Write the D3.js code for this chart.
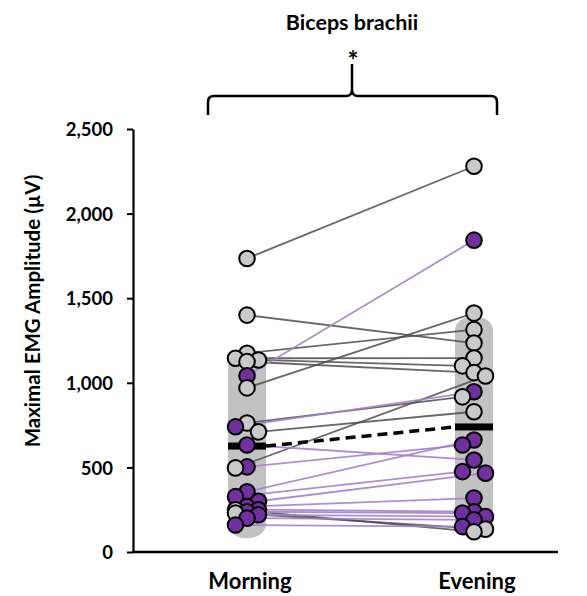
<!DOCTYPE html>
<html>
<head>
<meta charset="utf-8">
<script src="https://cdn.jsdelivr.net/npm/d3@7"></script>
<style>
  body { margin: 0; background: #fff; }
  svg text { font-family: Lato, "Open Sans", sans-serif; font-weight: bold; fill: #000; }
</style>
</head>
<body>
<svg id="chart" width="587" height="596"></svg>
<script>
// values (µV)
const sessions = ["Morning", "Evening"];
const grayMorning   = [1735, 1400, 1175, 1145, 1135, 1125, 970, 762, 710, 497, 250, 230];
const grayEvening   = [2280, 1235, 1314, 1146, 1100, 1060, 1412, 917, 829, 1040, 120, 135];
const purpleMorning = [1042, 740, 632, 503, 356, 327, 300, 268, 250, 238, 220, 200, 160];
const purpleEvening = [1843, 947, 544, 632, 662, 475, 466, 319, 238, 230, 209, 190, 150];
const sessionMeans = [626, 739];
const sessionSDs = [545, 655];
const yTicks = [0, 500, 1000, 1500, 2000, 2500];

let svg = d3.select("#chart"),
    plotLeft = 133, plotBottom = 552, plotTop = 129, plotRight = 558,
    bandW = 38, r = 7.8;

let x = d3.scalePoint().domain(sessions).range([247, 474]);
let y = d3.scaleLinear().domain([0, 2500]).range([plotBottom, plotTop]);

let colors = {gray: "#c9c9c9", purple: "#7030a0"};
let lineColors = {gray: "#4d4d4d", purple: "#a382cf"};

// subjects
let subjects = [];
grayMorning.forEach((v, i) => subjects.push({group: "gray", vals: [v, grayEvening[i]]}));
purpleMorning.forEach((v, i) => subjects.push({group: "purple", vals: [v, purpleEvening[i]]}));

// simple dodge so circles sit side by side like the original
let points = [];
sessions.forEach((s, si) => {
    let col = subjects.map(d => ({subj: d, group: d.group, value: d.vals[si], session: s}))
        .sort((a, b) => b.value - a.value);
    let placed = [];
    col.forEach(p => {
        let cy = y(p.value), best = null, bestD = -1;
        for (let off of [0, -11.5, 11.5]) {
            let dmin = d3.min(placed, q => Math.hypot(q.off - off, q.cy - cy));
            if (dmin === undefined) dmin = 999;
            if (dmin >= 12) { best = off; break; }
            if (dmin > bestD) { bestD = dmin; best = off; }
        }
        p.off = best; p.cy = cy; p.cx = x(s) + best;
        placed.push(p);
        p.subj["p" + si] = p;
        points.push(p);
    });
});

// mean ± SD bands
svg.selectAll("rect.band")
    .data(sessions)
    .enter().append("rect")
    .attr("class", "band")
    .attr("x", d => x(d) - bandW / 2)
    .attr("width", bandW)
    .attr("y", (d, i) => y(sessionMeans[i] + sessionSDs[i]))
    .attr("height", (d, i) => y(sessionMeans[i] - sessionSDs[i]) - y(sessionMeans[i] + sessionSDs[i]))
    .attr("rx", bandW / 2).attr("ry", 14)
    .attr("fill", "#c2c2c2");

// axes
let yAxis = d3.axisLeft(y).tickValues(yTicks).tickSize(6).tickSizeOuter(0)
    .tickFormat(d3.format(","));
let gy = svg.append("g").attr("transform", "translate(" + plotLeft + ",0)").call(yAxis);
gy.select(".domain").attr("stroke", "#000").attr("stroke-width", 2.2);
gy.selectAll(".tick line").attr("stroke", "#000").attr("stroke-width", 2);
gy.selectAll(".tick text").attr("x", -20).attr("dy", "0.36em").style("font-size", "18.5px");

svg.append("line")
    .attr("x1", plotLeft - 1).attr("x2", plotRight)
    .attr("y1", plotBottom).attr("y2", plotBottom)
    .attr("stroke", "#000").attr("stroke-width", 2.5);

svg.selectAll("text.xlab")
    .data(sessions)
    .enter().append("text")
    .attr("class", "xlab")
    .attr("x", d => x(d) + 3)
    .attr("y", 589)
    .attr("text-anchor", "middle")
    .style("font-size", "22px")
    .text(d => d);

svg.append("text")
    .attr("transform", "translate(40,311) rotate(-90)")
    .attr("text-anchor", "middle")
    .style("font-size", "20.5px")
    .text("Maximal EMG Amplitude (µV)");

// paired lines
svg.append("g").selectAll("line")
    .data(subjects)
    .enter().append("line")
    .attr("x1", d => d.p0.cx).attr("y1", d => d.p0.cy)
    .attr("x2", d => d.p1.cx).attr("y2", d => d.p1.cy)
    .attr("stroke", d => lineColors[d.group])
    .attr("stroke-opacity", d => d.group === "gray" ? 0.85 : 0.9)
    .attr("stroke-width", 1.8);

// means
svg.selectAll("rect.mean")
    .data(sessions)
    .enter().append("rect")
    .attr("class", "mean")
    .attr("x", d => x(d) - bandW / 2)
    .attr("width", bandW)
    .attr("y", (d, i) => y(sessionMeans[i]) - 3.5)
    .attr("height", 7)
    .attr("fill", "#000");

svg.append("line")
    .attr("x1", x(sessions[0]) + bandW / 2).attr("y1", y(sessionMeans[0]))
    .attr("x2", x(sessions[1]) - bandW / 2).attr("y2", y(sessionMeans[1]))
    .attr("stroke", "#000").attr("stroke-width", 3.5)
    .attr("stroke-dasharray", "10,6");

// circles
svg.append("g").selectAll("circle")
    .data(points)
    .enter().append("circle")
    .attr("cx", d => d.cx).attr("cy", d => d.cy)
    .attr("r", r)
    .attr("fill", d => colors[d.group])
    .attr("stroke", "#000").attr("stroke-width", 2);

// title, brace and significance mark
svg.append("text")
    .attr("x", 352).attr("y", 30)
    .attr("text-anchor", "middle")
    .style("font-size", "21.5px")
    .text("Biceps brachii");

svg.append("text")
    .attr("x", 353).attr("y", 70)
    .attr("text-anchor", "middle")
    .style("font-size", "26px")
    .text("*");

svg.append("path")
    .attr("d", "M208,115 L208,102 Q208,96 214,96 L346,96 Q352,96 352,90 L352,64"
        + " M352,90 Q352,96 358,96 L491,96 Q497,96 497,102 L497,115")
    .attr("fill", "none").attr("stroke", "#000").attr("stroke-width", 2.5);
</script>
</body>
</html>
